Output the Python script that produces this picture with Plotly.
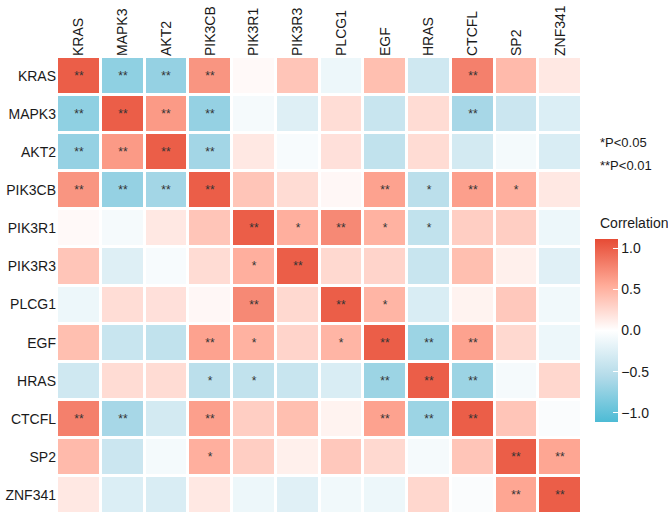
import plotly.graph_objects as go

genes = ["KRAS", "MAPK3", "AKT2", "PIK3CB", "PIK3R1", "PIK3R3",
         "PLCG1", "EGF", "HRAS", "CTCFL", "SP2", "ZNF341"]

# correlation values, row by row
corr = [
    [1.00, -0.75, -0.72, 0.68, 0.04, 0.38, -0.13, 0.42, -0.35, 0.80, 0.45, 0.15],
    [-0.75, 1.00, 0.65, -0.72, -0.07, -0.24, 0.22, -0.40, 0.23, -0.62, -0.38, -0.26],
    [-0.72, 0.65, 1.00, -0.64, 0.15, -0.06, 0.20, -0.45, 0.23, -0.32, -0.08, -0.28],
    [0.68, -0.72, -0.64, 1.00, 0.38, 0.23, 0.05, 0.60, -0.50, 0.62, 0.52, 0.15],
    [0.04, -0.07, 0.15, 0.38, 1.00, 0.52, 0.75, 0.50, -0.45, 0.32, 0.32, -0.13],
    [0.38, -0.24, -0.06, 0.23, 0.52, 1.00, 0.25, 0.28, -0.40, 0.42, 0.10, -0.23],
    [-0.13, 0.22, 0.20, 0.05, 0.75, 0.25, 1.00, 0.48, -0.28, 0.08, 0.36, -0.10],
    [0.42, -0.40, -0.45, 0.60, 0.50, 0.28, 0.48, 1.00, -0.68, 0.60, 0.25, -0.13],
    [-0.35, 0.23, 0.23, -0.50, -0.45, -0.40, -0.28, -0.68, 1.00, -0.68, -0.07, 0.26],
    [0.80, -0.62, -0.32, 0.62, 0.32, 0.42, 0.08, 0.60, -0.68, 1.00, 0.38, -0.04],
    [0.45, -0.38, -0.08, 0.52, 0.32, 0.10, 0.36, 0.25, -0.07, 0.38, 1.00, 0.58],
    [0.15, -0.26, -0.28, 0.15, -0.13, -0.23, -0.10, -0.13, 0.26, -0.04, 0.58, 1.00],
]

# significance: 2 = P<0.01, 1 = P<0.05, 0 = n.s.
signif = [
    [2, 2, 2, 2, 0, 0, 0, 0, 0, 2, 0, 0],
    [2, 2, 2, 2, 0, 0, 0, 0, 0, 2, 0, 0],
    [2, 2, 2, 2, 0, 0, 0, 0, 0, 0, 0, 0],
    [2, 2, 2, 2, 0, 0, 0, 2, 1, 2, 1, 0],
    [0, 0, 0, 0, 2, 1, 2, 1, 1, 0, 0, 0],
    [0, 0, 0, 0, 1, 2, 0, 0, 0, 0, 0, 0],
    [0, 0, 0, 0, 2, 0, 2, 1, 0, 0, 0, 0],
    [0, 0, 0, 2, 1, 0, 1, 2, 2, 2, 0, 0],
    [0, 0, 0, 1, 1, 0, 0, 2, 2, 2, 0, 0],
    [2, 2, 0, 2, 0, 0, 0, 2, 2, 2, 0, 0],
    [0, 0, 0, 1, 0, 0, 0, 0, 0, 0, 2, 2],
    [0, 0, 0, 0, 0, 0, 0, 0, 0, 0, 2, 2],
]

colorbar_ticks = [-1.0, -0.5, 0.0, 0.5, 1.0]
colorbar_labels = ["\u22121.0", "\u22120.5", "0.0", "0.5", "1.0"]

star_text = [["*" * s for s in row] for row in signif]

font_family = "Liberation Sans, Arial, sans-serif"
ink = "#1a1a1a"

fig = go.Figure(
    go.Heatmap(
        z=corr,
        x=genes,
        y=genes,
        text=star_text,
        texttemplate="%{text}",
        textfont=dict(size=12, color="#333333", family=font_family),
        # blue - white - red, with midpoints to mimic Lab interpolation
        colorscale=[[0, "#4DBBD5"], [0.25, "#B3DBE9"], [0.5, "#FFFFFF"],
                    [0.75, "#FFAA97"], [1, "#E64B35"]],
        zmin=-1.11,
        zmax=1.11,
        xgap=3,
        ygap=3,
        colorbar=dict(
            thickness=23,
            len=0.40,
            lenmode="fraction",
            x=1.025,
            xanchor="left",
            xpad=0,
            y=0.4015,
            yanchor="middle",
            ypad=0,
            outlinewidth=0,
            tickvals=colorbar_ticks,
            ticktext=colorbar_labels,
            ticks="inside",
            ticklen=5,
            tickwidth=1,
            tickcolor="white",
            tickfont=dict(size=14, color=ink, family=font_family),
        ),
    )
)

fig.add_annotation(x=1.03, y=0.637, xref="paper", yref="paper", text="Correlation",
                   showarrow=False, xanchor="left", yanchor="middle",
                   font=dict(size=14, color=ink, family=font_family))
fig.add_annotation(x=1.03, y=0.814, xref="paper", yref="paper", text="*P<0.05",
                   showarrow=False, xanchor="left", yanchor="middle",
                   font=dict(size=13, color=ink, family=font_family))
fig.add_annotation(x=1.03, y=0.7615, xref="paper", yref="paper", text="**P<0.01",
                   showarrow=False, xanchor="left", yanchor="middle",
                   font=dict(size=13, color=ink, family=font_family))

fig.update_xaxes(side="top", tickangle=-90, showgrid=False, zeroline=False, automargin=False,
                 ticks="", tickfont=dict(size=14, color=ink, family=font_family))
fig.update_yaxes(autorange="reversed", showgrid=False, zeroline=False, automargin=False,
                 ticks="", tickfont=dict(size=14, color=ink, family=font_family))
fig.update_layout(
    width=668,
    height=516,
    margin=dict(l=57, r=86, t=57, b=2),
    plot_bgcolor="white",
    paper_bgcolor="white",
    font=dict(family=font_family),
)

# drop the browser's default body margin so the figure sits at the window corner
fig.write_html("out.html", config={"displayModeBar": False},
               post_script="document.body.style.margin = '0';")
